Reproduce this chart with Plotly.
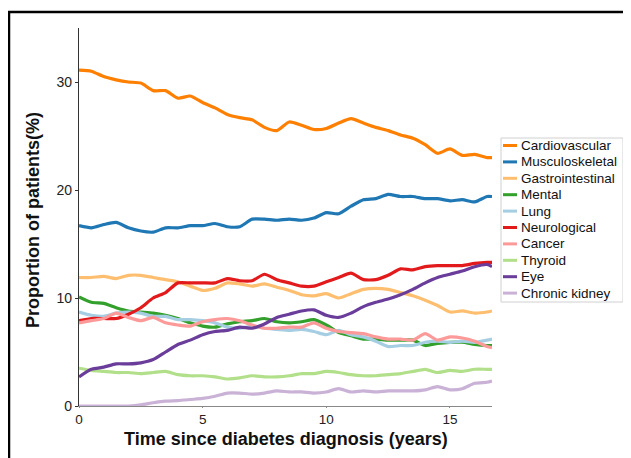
import plotly.graph_objects as go

years = [0, 0.5, 1.0, 1.5, 2.0, 2.5, 3.0, 3.5, 4.0, 4.5, 5.0, 5.5, 6.0, 6.5, 7.0, 7.5, 8.0, 8.5,
         9.0, 9.5, 10.0, 10.5, 11.0, 11.5, 12.0, 12.5, 13.0, 13.5, 14.0, 14.5, 15.0, 15.5, 16.0, 16.5, 16.7]

cardiovascular = [31.1, 31.0, 30.5, 30.2, 30.0, 29.9, 29.2, 29.2, 28.5, 28.7, 28.1, 27.6, 27.0, 26.7, 26.5, 25.8, 25.5, 26.3,
                  26.0, 25.6, 25.7, 26.2, 26.6, 26.2, 25.8, 25.5, 25.1, 24.8, 24.2, 23.4, 23.8, 23.2, 23.3, 23.0, 23.0]
musculoskeletal = [16.7, 16.5, 16.8, 17.0, 16.5, 16.2, 16.1, 16.5, 16.5, 16.7, 16.7, 16.9, 16.6, 16.6, 17.3, 17.3, 17.2, 17.3,
                   17.2, 17.4, 17.9, 17.8, 18.5, 19.1, 19.2, 19.6, 19.4, 19.4, 19.2, 19.2, 19.0, 19.1, 18.9, 19.4, 19.4]
gastrointestinal = [11.9, 11.9, 12.0, 11.8, 12.1, 12.1, 11.9, 11.7, 11.5, 11.1, 10.7, 10.9, 11.4, 11.3, 11.1, 11.3, 11.0, 10.7,
                    10.3, 10.2, 10.4, 10.0, 10.4, 10.8, 10.9, 10.8, 10.5, 10.2, 9.8, 9.3, 8.7, 8.8, 8.6, 8.7, 8.8]
mental = [10.1, 9.6, 9.5, 9.1, 8.8, 8.7, 8.6, 8.4, 8.1, 7.7, 7.4, 7.3, 7.6, 7.8, 7.9, 8.1, 7.8, 7.7,
          7.8, 8.0, 7.5, 6.8, 6.5, 6.2, 6.2, 6.1, 6.1, 6.1, 5.6, 5.8, 5.9, 5.9, 5.7, 5.6, 5.6]
lung = [8.7, 8.4, 8.3, 8.6, 8.7, 8.6, 8.3, 8.3, 8.0, 8.0, 7.9, 7.7, 7.3, 7.2, 7.4, 7.2, 7.1, 7.0,
        7.1, 6.9, 6.6, 7.0, 6.6, 6.4, 6.0, 5.5, 5.6, 5.6, 5.9, 6.0, 5.9, 6.0, 5.9, 6.1, 6.2]
neurological = [7.9, 8.1, 8.1, 8.1, 8.5, 9.1, 10.0, 10.5, 11.4, 11.4, 11.4, 11.4, 11.8, 11.6, 11.6, 12.2, 11.7, 11.4,
                11.1, 11.1, 11.5, 11.9, 12.3, 11.7, 11.7, 12.1, 12.7, 12.6, 12.9, 13.0, 13.0, 13.0, 13.2, 13.3, 13.3]
cancer = [7.7, 7.9, 8.1, 8.6, 8.2, 7.9, 8.2, 7.7, 7.5, 7.4, 7.8, 8.0, 8.1, 7.9, 7.5, 7.2, 7.2, 7.3,
          7.3, 7.7, 7.2, 6.9, 6.8, 6.7, 6.4, 6.2, 6.2, 6.1, 6.7, 6.1, 6.4, 6.3, 6.0, 5.5, 5.4]
thyroid = [3.5, 3.3, 3.2, 3.1, 3.1, 3.0, 3.1, 3.2, 2.9, 2.8, 2.8, 2.7, 2.5, 2.6, 2.8, 2.7, 2.7, 2.8,
           3.0, 3.0, 3.2, 3.1, 2.9, 2.8, 2.8, 2.9, 3.0, 3.2, 3.4, 3.1, 3.3, 3.2, 3.4, 3.4, 3.4]
eye = [2.7, 3.4, 3.6, 3.9, 3.9, 4.0, 4.3, 5.0, 5.7, 6.1, 6.6, 6.9, 7.0, 7.3, 7.2, 7.6, 8.2, 8.5,
       8.8, 8.9, 8.4, 8.2, 8.6, 9.2, 9.6, 9.9, 10.3, 10.8, 11.4, 11.9, 12.2, 12.5, 12.9, 13.1, 12.9]
chronic_kidney = [0, 0, 0, 0, 0, 0.1, 0.3, 0.45, 0.5, 0.6, 0.7, 0.9, 1.2, 1.2, 1.1, 1.2, 1.4, 1.3,
                  1.3, 1.2, 1.3, 1.6, 1.3, 1.4, 1.3, 1.4, 1.4, 1.4, 1.5, 1.8, 1.5, 1.6, 2.1, 2.2, 2.3]

names = ["Cardiovascular", "Musculoskeletal", "Gastrointestinal", "Mental", "Lung",
         "Neurological", "Cancer", "Thyroid", "Eye", "Chronic kidney"]
series = [cardiovascular, musculoskeletal, gastrointestinal, mental, lung,
          neurological, cancer, thyroid, eye, chronic_kidney]
colors = ["#ff7f00", "#1f78b4", "#fdbf6f", "#33a02c", "#a6cee3",
          "#e31a1c", "#fb9a99", "#b2df8a", "#6a3d9a", "#cab2d6"]

x_ticks = [0, 5, 10, 15]
y_ticks = [0, 10, 20, 30]

OFF = 8  # page body margin
W, H = 631 - OFF, 458 - OFF
L, T = 79 - OFF, 28 - OFF
pw, ph = 413, 378
R, B = W - L - pw, H - T - ph

def px(xpage):
    return (xpage - OFF - L) / pw

def py(ypage):
    return (T + ph - (ypage - OFF)) / ph

FONT = "Liberation Sans, Arial, Helvetica, sans-serif"

fig = go.Figure()
for nm, ys, c in zip(names, series, colors):
    fig.add_trace(go.Scatter(x=years, y=ys, mode="lines", name=nm,
                             line=dict(color=c, width=3.2, shape="spline", smoothing=0.6),
                             showlegend=False))

shapes = []
annotations = []
# outer frame
shapes.append(dict(type="rect", xref="paper", yref="paper",
                   x0=px(9), x1=px(660), y0=py(12), y1=py(490),
                   line=dict(color="black", width=2.5), fillcolor="rgba(0,0,0,0)"))
# legend box
shapes.append(dict(type="rect", xref="paper", yref="paper",
                   x0=px(501), x1=px(623), y0=py(138), y1=py(302),
                   line=dict(color="#d0d0d0", width=1), fillcolor="rgba(0,0,0,0)"))
for i, (nm, c) in enumerate(zip(names, colors)):
    yy = py(145.5 + i * 16.4)
    shapes.append(dict(type="line", xref="paper", yref="paper",
                       x0=px(503), x1=px(517), y0=yy, y1=yy,
                       line=dict(color=c, width=3)))
    annotations.append(dict(xref="paper", yref="paper", x=px(519), y=yy,
                            xanchor="left", yanchor="middle", showarrow=False,
                            text=nm, font=dict(family=FONT, size=13.5, color="#111")))

annotations.append(dict(xref="paper", yref="paper", x=0.5, y=py(439),
                        xanchor="center", yanchor="middle", showarrow=False,
                        text="<b>Time since diabetes diagnosis (years)</b>",
                        font=dict(family=FONT, size=18, color="#111")))
annotations.append(dict(xref="paper", yref="paper", x=px(33), y=py(220),
                        xanchor="center", yanchor="middle", showarrow=False, textangle=-90,
                        text="<b>Proportion of patients(%)</b>",
                        font=dict(family=FONT, size=18, color="#111")))

fig.update_layout(
    width=W, height=H,
    margin=dict(l=L, r=R, t=T, b=B, pad=0),
    paper_bgcolor="white", plot_bgcolor="white",
    shapes=shapes, annotations=annotations,
    showlegend=False,
    font=dict(family=FONT, size=14, color="#222"),
)
fig.update_xaxes(range=[0, 16.7], tickvals=x_ticks, ticktext=[str(v) for v in x_ticks],
                 showgrid=False, zeroline=False, showline=True, linecolor="#888", linewidth=1.2,
                 ticks="outside", ticklen=1, tickcolor="#888", tickfont=dict(size=13.5, color="#222"))
fig.update_yaxes(range=[0, 35], tickvals=y_ticks, ticktext=[str(v) for v in y_ticks],
                 showgrid=False, zeroline=False, showline=True, linecolor="#333", linewidth=1.2,
                 ticks="outside", ticklen=3, tickcolor="#333", tickfont=dict(size=14, color="#222"))

fig.write_html("out.html")
